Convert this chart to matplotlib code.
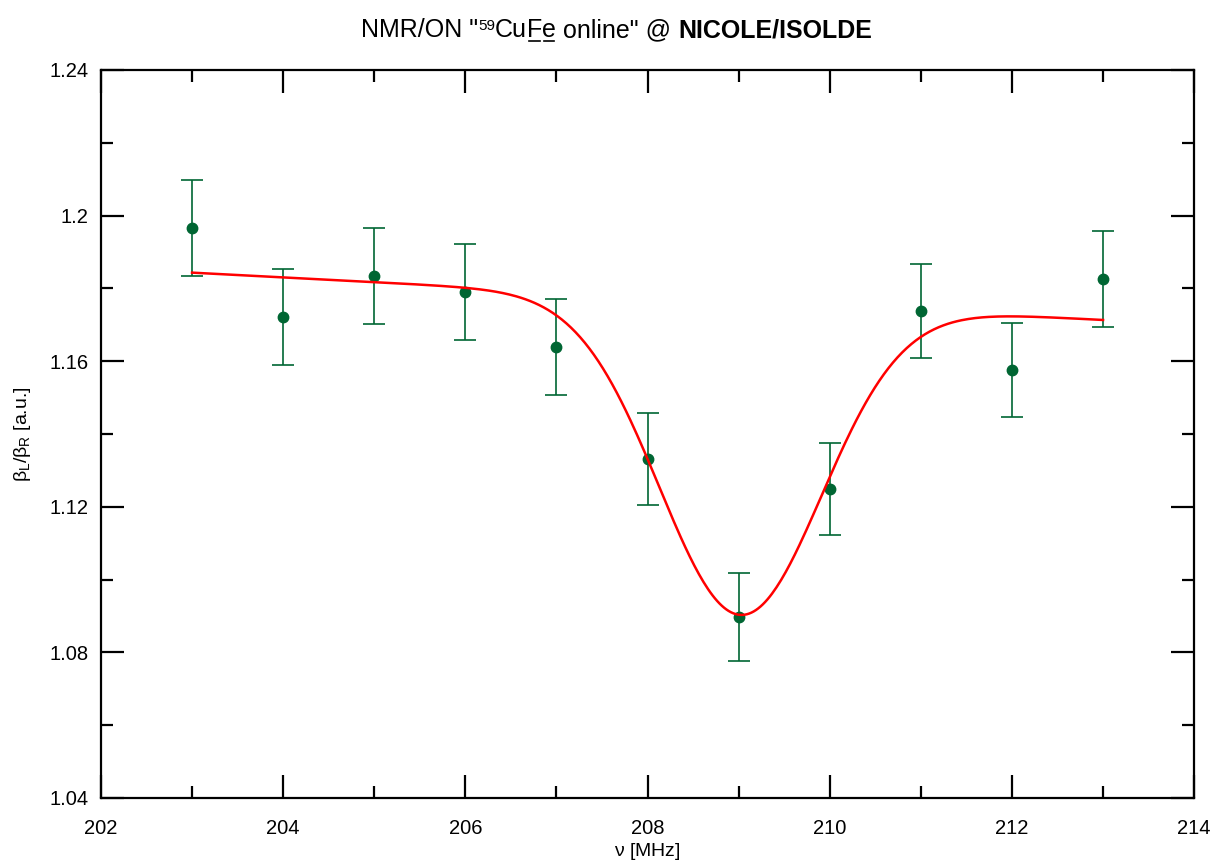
import matplotlib
matplotlib.use("Agg")
import matplotlib.pyplot as plt
import numpy as np
from matplotlib.ticker import MultipleLocator, FuncFormatter

plt.rcParams['font.family'] = ['Liberation Sans', 'DejaVu Sans']
plt.rcParams['mathtext.fontset'] = 'custom'
plt.rcParams['mathtext.rm'] = 'Liberation Sans'
plt.rcParams['mathtext.it'] = 'Liberation Sans'

# ---------- Data ----------
freq = [203, 204, 205, 206, 207, 208, 209, 210, 211, 212, 213]
ratio = [1.1966, 1.1721, 1.1834, 1.1790, 1.1639, 1.1331, 1.0897,
         1.1249, 1.1738, 1.1576, 1.1826]
err = [0.0133, 0.0131, 0.0132, 0.0131, 0.0131, 0.0127, 0.0122,
       0.0126, 0.0130, 0.0130, 0.0131]

# fit: linear baseline with gaussian dip
fit_base = 1.1765
fit_slope = -0.0013
fit_depth = 0.0862
fit_center = 209.02
fit_sigma = 0.89

green = '#006633'

fig = plt.figure(figsize=(12.21, 8.64), dpi=100)
ax = fig.add_axes([0.0827, 0.0764, 0.8953, 0.8426])

ax.errorbar(freq, ratio, yerr=err, fmt='o', color=green, ms=7.5,
            elinewidth=1.2, capsize=8, capthick=1.2, zorder=2)

xf = np.linspace(freq[0], freq[-1], 400)
yf = fit_base + fit_slope * (xf - fit_center) \
    - fit_depth * np.exp(-(xf - fit_center) ** 2 / (2 * fit_sigma ** 2))
ax.plot(xf, yf, color='#ff0000', lw=1.8, zorder=3)

ax.set_xlim(202, 214)
ax.set_ylim(1.04, 1.24)
ax.xaxis.set_major_locator(MultipleLocator(2))
ax.xaxis.set_minor_locator(MultipleLocator(1))
ax.yaxis.set_major_locator(MultipleLocator(0.04))
ax.yaxis.set_minor_locator(MultipleLocator(0.02))
ax.yaxis.set_major_formatter(FuncFormatter(lambda v, p: ('%.2f' % v).rstrip('0').rstrip('.')))

ax.tick_params(which='both', direction='in', top=True, right=True,
               width=1.6, labelsize=14.5)
ax.tick_params(axis='x', pad=15)
ax.tick_params(axis='y', pad=9)
ax.tick_params(which='major', length=16.5)
ax.tick_params(which='minor', length=8.5)
for s in ax.spines.values():
    s.set_linewidth(1.6)

ax.set_xlabel(r'$\nu$ [MHz]', fontsize=14, labelpad=2)
ax.set_ylabel(r'$\beta_L/\beta_R$ [a.u.]', fontsize=14, labelpad=12)

# ---------- Title built from pieces (superscript, underlines, bold) ----------
pieces = [
    ('NMR/ON "', 18, 'normal', 0, False),
    ('59', 11, 'normal', 7, False),
    ('Cu', 18, 'normal', 0, False),
    ('F', 18, 'normal', 0, True),
    ('e', 18, 'normal', 0, True),
    (' online" @ ', 18, 'normal', 0, False),
    ('NICOLE/ISOLDE', 18, 'bold', 0, False),
]
renderer = fig.canvas.get_renderer()
W, H = fig.get_size_inches() * fig.dpi
y0 = 1 - 37 / 864.0
texts = []
total = 0
for s, size, weight, dy, ul in pieces:
    t = fig.text(0, y0 + dy / H, s, fontsize=size, fontweight=weight,
                 va='baseline', ha='left')
    w = t.get_window_extent(renderer).width
    texts.append((t, w, ul))
    total += w
x = (W - total) / 2 + 6
for t, w, ul in texts:
    t.set_x(x / W)
    if ul:
        fig.add_artist(plt.Line2D([(x + 2) / W, (x + w - 2) / W],
                                  [y0 - 4 / H, y0 - 4 / H],
                                  color='black', lw=1.2,
                                  transform=fig.transFigure))
    x += w

fig.savefig('out.png', dpi=100)
